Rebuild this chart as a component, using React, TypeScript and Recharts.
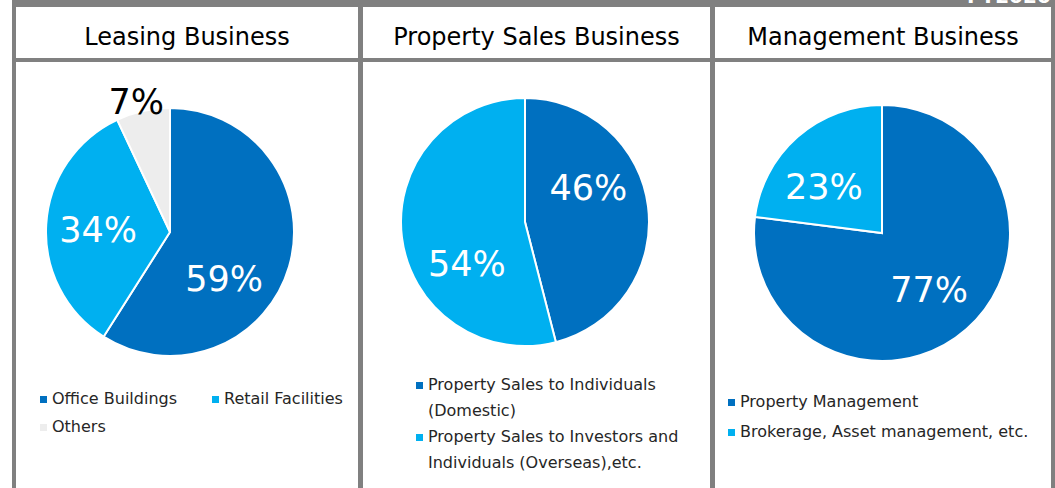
import { PieChart, Pie, Cell, Legend } from "recharts";

const FONT = '"DejaVu Sans", Verdana, sans-serif';
const BORDER = "#808080";
const DARK_BLUE = "#0070C0";
const LIGHT_BLUE = "#00B0F0";
const LIGHT_GRAY = "#EDEDED";

const periodLabel = "FY2020";

const leasingTitle = "Leasing Business";
const leasingNames = ["Office Buildings", "Retail Facilities", "Others"];
const leasingShares = [59, 34, 7];

const salesTitle = "Property Sales Business";
const salesNames = [
	"Property Sales to Individuals (Domestic)",
	"Property Sales to Investors and Individuals (Overseas),etc.",
];
const salesShares = [46, 54];

const mgmtTitle = "Management Business";
const mgmtNames = ["Property Management", "Brokerage, Asset management, etc."];
const mgmtShares = [77, 23];

const sliceColors = [DARK_BLUE, LIGHT_BLUE, LIGHT_GRAY];
const RAD = Math.PI / 180;

// label placed along the slice's mid angle, nudged by a small tilt like Excel's best fit
const makeLabel = (tilts: number[]) => (props: any) => {
	const { cx, cy, midAngle, outerRadius, value, index } = props;
	const small = value < 10;
	const r = small ? outerRadius * 1.08 : outerRadius * 0.58;
	const angle = midAngle - (tilts[index] || 0);
	const x = cx + r * Math.cos(-angle * RAD);
	const y = cy + r * Math.sin(-angle * RAD);
	return (
		<text
			x={x}
			y={y}
			fill={small ? "#000000" : "#FFFFFF"}
			textAnchor="middle"
			dominantBaseline="central"
			fontFamily={FONT}
			fontSize={35}
		>
			{`${value}%`}
		</text>
	);
};

type PanelProps = {
	names: string[];
	shares: number[];
	width: number;
	height: number;
	cx: number;
	cy: number;
	radius: number;
	legendLeft: number;
	legendTop: number;
	columns: string;
	lineHeight: number;
	labelTilt: number[];
};

const BusinessPie = (p: PanelProps) => {
	const rows = p.names.map((name, i) => ({ name, value: p.shares[i] }));

	const renderLegend = () => (
		<div
			style={{
				display: "grid",
				gridTemplateColumns: p.columns,
				fontFamily: FONT,
				fontSize: 16,
				color: "#262626",
			}}
		>
			{rows.map((row, i) => (
				<div key={row.name} style={{ display: "flex", alignItems: "flex-start" }}>
					<span
						style={{
							width: 7,
							height: 7,
							flex: "none",
							background: sliceColors[i],
							marginTop: (p.lineHeight - 7) / 2,
							marginRight: 5,
						}}
					/>
					<span style={{ lineHeight: `${p.lineHeight}px` }}>{row.name}</span>
				</div>
			))}
		</div>
	);

	return (
		<PieChart width={p.width} height={p.height} margin={{ top: 0, right: 0, bottom: 0, left: 0 }}>
			<Pie
				data={rows}
				dataKey="value"
				nameKey="name"
				cx={p.cx}
				cy={p.cy}
				outerRadius={p.radius}
				startAngle={90}
				endAngle={-270}
				stroke="#FFFFFF"
				strokeWidth={2}
				labelLine={false}
				label={makeLabel(p.labelTilt)}
				isAnimationActive={false}
			>
				{rows.map((row, i) => (
					<Cell key={row.name} fill={sliceColors[i]} />
				))}
			</Pie>
			<Legend
				content={renderLegend}
				wrapperStyle={{ left: p.legendLeft, top: p.legendTop, width: "auto", bottom: "auto" }}
			/>
		</PieChart>
	);
};

const Header = ({ left, width, title }: { left: number; width: number; title: string }) => (
	<div
		style={{
			position: "absolute",
			left,
			top: 11,
			width,
			height: 51,
			display: "flex",
			alignItems: "center",
			justifyContent: "center",
			fontFamily: FONT,
			fontSize: 24,
			color: "#000000",
		}}
	>
		{title}
	</div>
);

const bar = (left: number, top: number, width: number, height: number) => (
	<div style={{ position: "absolute", left, top, width, height, background: BORDER }} />
);

const App = () => {
	return (
		<div
			style={{
				position: "absolute",
				left: 0,
				top: 0,
				width: 1055,
				height: 488,
				background: "#FFFFFF",
				overflow: "hidden",
			}}
		>
			{/* top band, the period label is clipped by it as in the source slide */}
			<div
				style={{
					position: "absolute",
					left: 12,
					top: 0,
					width: 1043,
					height: 7,
					background: BORDER,
					overflow: "hidden",
				}}
			>
				<span
					style={{
						position: "absolute",
						left: 955,
						bottom: 1,
						fontFamily: FONT,
						fontWeight: "bold",
						fontSize: 20,
						lineHeight: "20px",
						color: "#FFFFFF",
					}}
				>
					{periodLabel}
				</span>
			</div>
			{bar(12, 0, 4, 488)}
			{bar(358, 7, 5, 481)}
			{bar(710, 7, 5, 481)}
			{bar(1051, 7, 4, 481)}
			{bar(12, 58, 1043, 4)}

			<Header left={16} width={342} title={leasingTitle} />
			<Header left={363} width={347} title={salesTitle} />
			<Header left={715} width={336} title={mgmtTitle} />

			<div style={{ position: "absolute", left: 16, top: 62 }}>
				<BusinessPie
					names={leasingNames}
					shares={leasingShares}
					width={342}
					height={426}
					cx={154}
					cy={170}
					radius={124}
					legendLeft={24}
					legendTop={323}
					columns="172px 160px"
					lineHeight={28}
					labelTilt={[25, -2, -2]}
				/>
			</div>
			<div style={{ position: "absolute", left: 363, top: 62 }}>
				<BusinessPie
					names={salesNames}
					shares={salesShares}
					width={347}
					height={426}
					cx={162}
					cy={160}
					radius={124}
					legendLeft={53}
					legendTop={310}
					columns="272px"
					lineHeight={26}
					labelTilt={[-21, -29]}
				/>
			</div>
			<div style={{ position: "absolute", left: 715, top: 62 }}>
				<BusinessPie
					names={mgmtNames}
					shares={mgmtShares}
					width={336}
					height={426}
					cx={167}
					cy={171}
					radius={128}
					legendLeft={13}
					legendTop={325}
					columns="320px"
					lineHeight={30}
					labelTilt={[2, -10]}
				/>
			</div>
		</div>
	);
};

export default App;
